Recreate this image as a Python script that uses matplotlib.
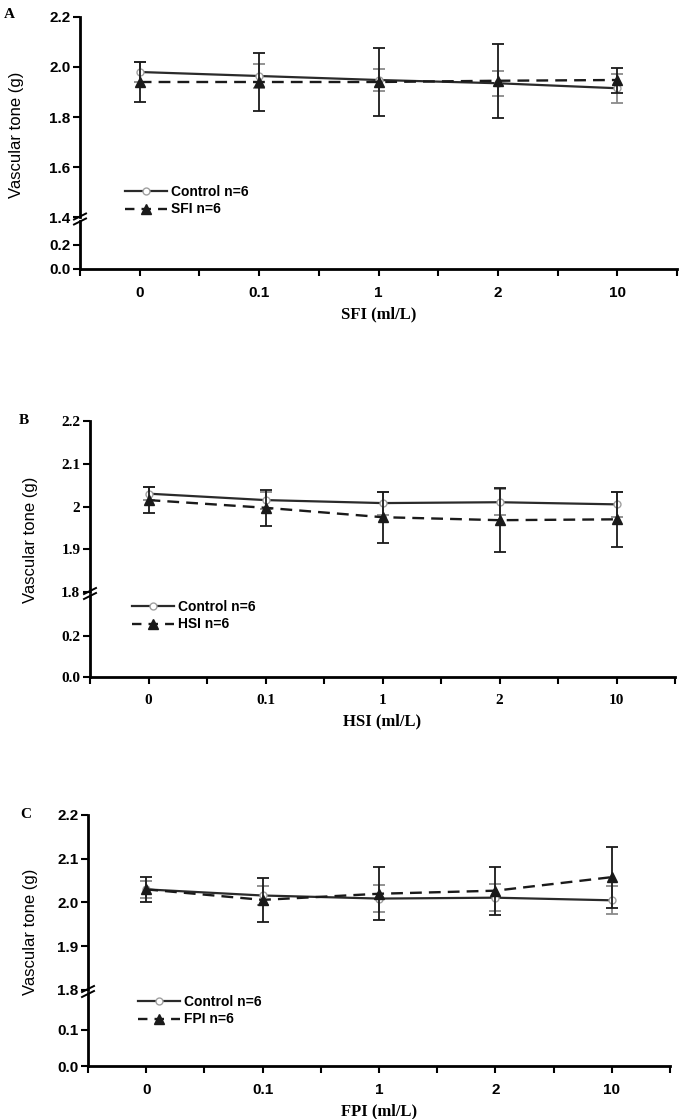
import numpy as np
import matplotlib
matplotlib.use("Agg")
import matplotlib.pyplot as plt
from matplotlib.lines import Line2D

W, H = 685, 1119

doses = ["0", "0.1", "1", "2", "10"]

# panel A - SFI
sfi_ctrl = [1.98, 1.964, 1.948, 1.935, 1.915]
sfi_ctrl_err = [0.04, 0.047, 0.045, 0.05, 0.057]
sfi_mean = [1.94, 1.94, 1.94, 1.945, 1.948]
sfi_err = [0.08, 0.115, 0.135, 0.147, 0.05]

# panel B - HSI
hsi_ctrl = [2.03, 2.015, 2.008, 2.01, 2.005]
hsi_ctrl_err = [0.015, 0.02, 0.027, 0.03, 0.03]
hsi_mean = [2.015, 1.997, 1.975, 1.968, 1.97]
hsi_err = [0.03, 0.042, 0.06, 0.075, 0.065]

# panel C - FPI
fpi_ctrl = [2.03, 2.016, 2.009, 2.011, 2.005]
fpi_ctrl_err = [0.02, 0.022, 0.03, 0.031, 0.032]
fpi_mean = [2.03, 2.006, 2.02, 2.027, 2.058]
fpi_err = [0.028, 0.05, 0.06, 0.055, 0.07]

SANS = "Liberation Sans"
SERIF = "Liberation Serif"

# pixel layout of each panel: axis x range, top / break / bottom rows
panels = [
    dict(letter="A", name="SFI", ctrl=sfi_ctrl, ctrl_err=sfi_ctrl_err, mean=sfi_mean, err=sfi_err,
         x0=80, x1=677, top=17, brk_hi=217, brk_lo=221, bottom=269,
         hi=(1.4, 2.2), hi_ticks=[1.4, 1.6, 1.8, 2.0, 2.2], hi_fmt="{:.1f}",
         lo=(0, 0.4), lo_ticks=[0.0, 0.2], font=SANS,
         letter_xy=(9, 15), ylab_xy=(17, 135), leg_xy=(125, 193)),
    dict(letter="B", name="HSI", ctrl=hsi_ctrl, ctrl_err=hsi_ctrl_err, mean=hsi_mean, err=hsi_err,
         x0=90, x1=675, top=421, brk_hi=592, brk_lo=595, bottom=677,
         hi=(1.8, 2.2), hi_ticks=[1.8, 1.9, 2.0, 2.1, 2.2], hi_fmt="{:g}",
         lo=(0, 0.4), lo_ticks=[0.0, 0.2], font=SERIF,
         letter_xy=(24, 421), ylab_xy=(30, 540), leg_xy=(132, 608)),
    dict(letter="C", name="FPI", ctrl=fpi_ctrl, ctrl_err=fpi_ctrl_err, mean=fpi_mean, err=fpi_err,
         x0=88, x1=670, top=815, brk_hi=990, brk_lo=993, bottom=1066,
         hi=(1.8, 2.2), hi_ticks=[1.8, 1.9, 2.0, 2.1, 2.2], hi_fmt="{:.1f}",
         lo=(0, 0.2), lo_ticks=[0.0, 0.1], font=SANS,
         letter_xy=(26, 815), ylab_xy=(30, 932), leg_xy=(138, 1003)),
]


def box(x0, y0, x1, y1):
    return [x0 / W, 1 - y1 / H, (x1 - x0) / W, (y1 - y0) / H]


def fx(x, y):
    return x / W, 1 - y / H


fig = plt.figure(figsize=(W / 100, H / 100), dpi=100)

x = np.arange(len(doses))
tick_kw = dict(direction="out", width=1.5, length=5, color="black")

for p in panels:
    ax_hi = fig.add_axes(box(p["x0"], p["top"], p["x1"], p["brk_hi"]))
    ax_lo = fig.add_axes(box(p["x0"], p["brk_lo"], p["x1"], p["bottom"]))
    tfont = dict(family=p["font"], weight="bold", size=11)

    for ax in (ax_hi, ax_lo):
        ax.set_xlim(-0.5, len(doses) - 0.5)
        ax.patch.set_visible(False)
        for s in ("top", "right"):
            ax.spines[s].set_visible(False)
        ax.spines["left"].set_linewidth(2)
        ax.tick_params(axis="y", **tick_kw, pad=2)

    ax_hi.spines["bottom"].set_visible(False)
    ax_hi.tick_params(axis="x", bottom=False, labelbottom=False)
    ax_hi.set_ylim(*p["hi"])
    ax_hi.set_yticks(p["hi_ticks"])
    ax_hi.set_yticklabels([p["hi_fmt"].format(v) for v in p["hi_ticks"]], **tfont)

    ax_lo.spines["bottom"].set_linewidth(2)
    ax_lo.set_ylim(*p["lo"])
    ax_lo.set_yticks(p["lo_ticks"])
    ax_lo.set_yticklabels(["{:.1f}".format(v) for v in p["lo_ticks"]], **tfont)
    ax_lo.set_xticks(x)
    ax_lo.set_xticklabels(doses, **tfont)
    ax_lo.set_xticks(np.arange(-0.5, len(doses), 1.0), minor=True)
    ax_lo.tick_params(axis="x", which="both", **tick_kw, pad=7)
    ax_lo.set_xlabel(f"{p['name']} (ml/L)", family=SERIF, weight="bold", size=12, labelpad=5)

    # control group
    ax_hi.errorbar(x, p["ctrl"], yerr=p["ctrl_err"], fmt="none", ecolor="#8a8a8a",
                   elinewidth=1.3, capsize=4, capthick=1.3, zorder=2)
    ax_hi.plot(x, p["ctrl"], "-", color="#2a2a2a", lw=1.6, marker="o", ms=5,
               mfc="white", mec="#a0a0a0", mew=1, zorder=3)
    # treated group
    ax_hi.errorbar(x, p["mean"], yerr=p["err"], fmt="none", ecolor="#1a1a1a",
                   elinewidth=1.3, capsize=4, capthick=1.3, zorder=4)
    ax_hi.plot(x, p["mean"], color="#1a1a1a", lw=1.7, dashes=(5, 3), marker="^", ms=7,
               zorder=5)

    # axis break marks
    xb = p["x0"]
    yb = (p["brk_hi"] + p["brk_lo"]) / 2
    for dy in (-2.5, 2.5):
        (xa, ya), (xc, yc) = fx(xb - 6, yb + dy + 3), fx(xb + 6, yb + dy - 3)
        fig.add_artist(Line2D([xa, xc], [ya, yc], color="black", lw=1.4))

    fig.text(*fx(*p["letter_xy"]), p["letter"], family=SERIF, weight="bold", size=11,
             ha="center", va="center")
    fig.text(*fx(*p["ylab_xy"]), "Vascular tone (g)", family=SANS, size=12,
             rotation=90, ha="center", va="center")

    handles = [
        Line2D([], [], color="#2a2a2a", lw=1.6, marker="o", ms=5, mfc="white", mec="#a0a0a0"),
        Line2D([], [], color="#1a1a1a", lw=1.7, dashes=(4, 3), marker="^", ms=7),
    ]
    lx, ly = fx(p["leg_xy"][0], p["leg_xy"][1] - 8)
    fig.legend(handles, ["Control n=6", f"{p['name']} n=6"], loc="upper left",
               bbox_to_anchor=(lx, ly), frameon=False, borderpad=0, borderaxespad=0,
               handlelength=3.0, handletextpad=0.3, labelspacing=0.25,
               prop=dict(family=SANS, weight="bold", size=10))

fig.savefig("out.png", dpi=100, facecolor="white")
